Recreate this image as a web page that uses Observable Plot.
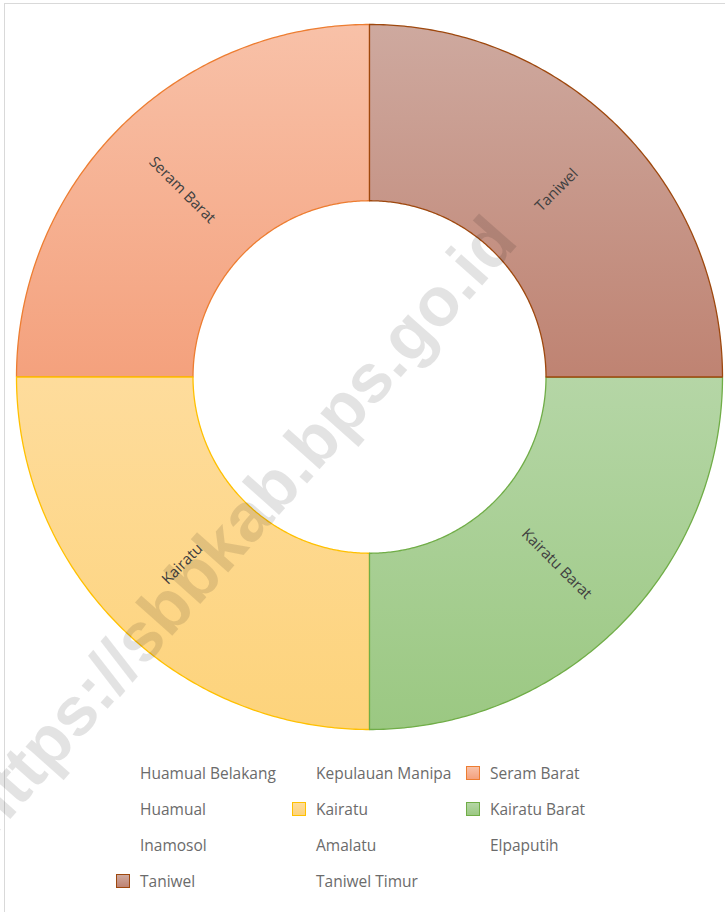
<!DOCTYPE html>
<html>
<head>
<meta charset="utf-8">
<script src="https://cdn.jsdelivr.net/npm/d3@7"></script>
<script src="https://cdn.jsdelivr.net/npm/@observablehq/plot@0.6"></script>
<style>
  html, body { margin: 0; padding: 0; background: #fff; }
  #page { position: relative; width: 725px; height: 912px; overflow: hidden; font-family: "Open Sans", sans-serif; }
  #frame { position: absolute; left: 4px; top: 3px; width: 900px; height: 1000px; border-left: 1px solid #d9d9d9; border-top: 1px solid #d9d9d9; pointer-events: none; }
  #chart { position: absolute; left: 0; top: 0; }
  #legend { position: absolute; left: 0; top: 0; width: 725px; height: 912px; pointer-events: none; }
  .item { position: absolute; font-size: 15.5px; color: #6b6b6b; white-space: nowrap; line-height: 20px; }
  .sw { position: absolute; width: 14px; height: 14px; left: -24px; top: 3px; box-sizing: border-box; border: 1.3px solid; }
  #wm { position: absolute; left: 238px; top: 526px; transform: translate(-50%, -50%) rotate(-48.5deg); font: bold 69px "Liberation Sans", Arial, sans-serif; color: rgba(0,0,0,0.11); white-space: nowrap; pointer-events: none; }
</style>
</head>
<body>
<div id="page">
  <div id="frame"></div>
  <div id="chart"></div>
  <div id="legend"></div>
  <div id="wm">https://sbbkab.bps.go.id</div>
</div>
<script>
// Data (legend order, row-major)
const regions = ["Huamual Belakang", "Kepulauan Manipa", "Seram Barat", "Huamual", "Kairatu", "Kairatu Barat", "Inamosol", "Amalatu", "Elpaputih", "Taniwel", "Taniwel Timur"];
const shares = [0, 0, 25, 0, 25, 25, 0, 0, 0, 25, 0];
const strokeColors = {"Seram Barat": "#ED7D31", "Kairatu": "#FFC000", "Kairatu Barat": "#70AD47", "Taniwel": "#9E480E"};
const gradTop = {"Seram Barat": "#F8C1A8", "Kairatu": "#FEDC9C", "Kairatu Barat": "#B5D6A6", "Taniwel": "#CEA99F"};
const gradBottom = {"Seram Barat": "#F4A17D", "Kairatu": "#FDD37B", "Kairatu Barat": "#9BC882", "Taniwel": "#BF8372"};

const total = d3.sum(shares);
const inner = 0.5;
// slices go counter-clockwise from 12 o'clock in data order
let cum = 0;
const slices = [];
regions.forEach((name, i) => {
  const v = shares[i];
  const a0 = -cum / total * 2 * Math.PI;
  cum += v;
  const a1 = -cum / total * 2 * Math.PI;
  if (v > 0) slices.push({name, a0, a1, idx: i});
});

function ringPoints(s) {
  const n = 160, pts = [];
  for (let k = 0; k <= n; k++) { const a = s.a0 + (s.a1 - s.a0) * k / n; pts.push({x: Math.sin(a), y: Math.cos(a)}); }
  for (let k = n; k >= 0; k--) { const a = s.a0 + (s.a1 - s.a0) * k / n; pts.push({x: inner * Math.sin(a), y: inner * Math.cos(a)}); }
  pts.push(pts[0]);
  return pts;
}

const labels = slices.map(s => {
  const am = (s.a0 + s.a1) / 2, r = (1 + inner) / 2;
  let rot = (am * 180 / Math.PI) - 90;
  rot = ((rot % 360) + 360) % 360;
  if (rot > 90 && rot < 270) rot -= 180;
  if (rot >= 270) rot -= 360;
  return {x: r * Math.sin(am), y: r * Math.cos(am), text: s.name, rotate: rot};
});

const marks = slices.map(s => Plot.line(ringPoints(s), {
  x: "x", y: "y", curve: "linear",
  fill: `url(#grad-${s.idx})`, stroke: strokeColors[s.name], strokeWidth: 1.3
}));
marks.push(Plot.text(labels, {x: "x", y: "y", text: "text", rotate: "rotate", fill: "#404040", fontSize: 15, fontFamily: "Open Sans"}));

const svg = Plot.plot({
  width: 725, height: 750,
  marginLeft: 16, marginRight: 3, marginTop: 24, marginBottom: 21,
  x: {domain: [-1, 1], axis: null},
  y: {domain: [-1, 1], axis: null},
  style: {background: "transparent", overflow: "visible"},
  marks
});

const ns = "http://www.w3.org/2000/svg";
const defs = document.createElementNS(ns, "defs");
slices.forEach(s => {
  const g = document.createElementNS(ns, "linearGradient");
  g.setAttribute("id", `grad-${s.idx}`);
  g.setAttribute("x1", "0"); g.setAttribute("y1", "0"); g.setAttribute("x2", "0"); g.setAttribute("y2", "1");
  [[0, gradTop[s.name]], [1, gradBottom[s.name]]].forEach(([o, c]) => {
    const st = document.createElementNS(ns, "stop");
    st.setAttribute("offset", o); st.setAttribute("stop-color", c);
    g.appendChild(st);
  });
  defs.appendChild(g);
});
svg.insertBefore(defs, svg.firstChild);
document.getElementById("chart").appendChild(svg);

// Legend
const colX = [140, 316, 490];
const legend = document.getElementById("legend");
regions.forEach((name, i) => {
  const r = Math.floor(i / 3), c = i % 3;
  const item = document.createElement("div");
  item.className = "item";
  item.style.left = colX[c] + "px";
  item.style.top = (763 + r * 36) + "px";
  item.textContent = name;
  if (shares[i] > 0) {
    const sw = document.createElement("div");
    sw.className = "sw";
    sw.style.borderColor = strokeColors[name];
    sw.style.background = `linear-gradient(${gradTop[name]}, ${gradBottom[name]})`;
    item.appendChild(sw);
  }
  legend.appendChild(item);
});
</script>
</body>
</html>
